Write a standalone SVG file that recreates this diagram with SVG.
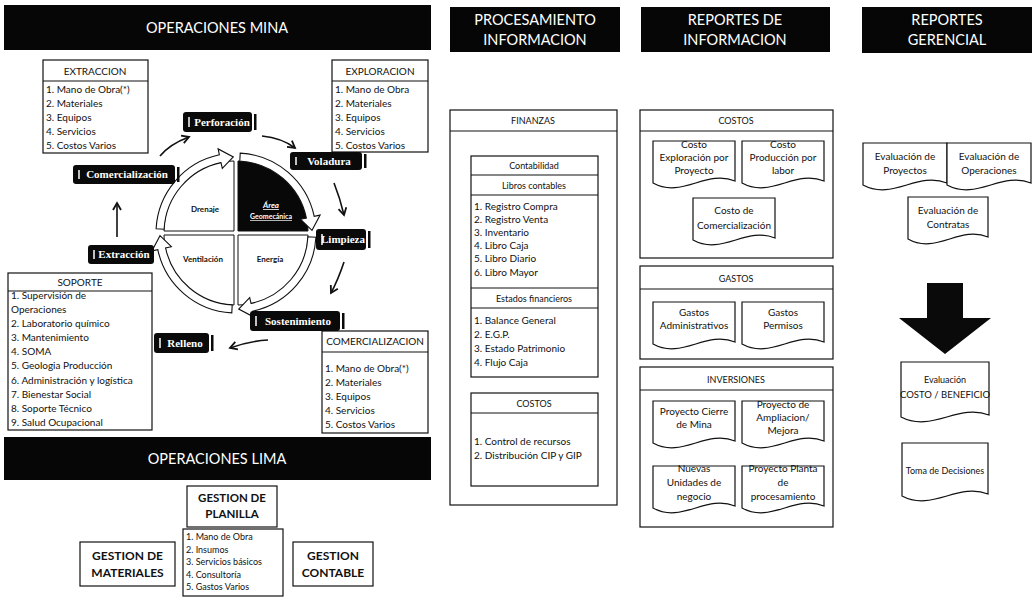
<svg xmlns="http://www.w3.org/2000/svg" xmlns:xlink="http://www.w3.org/1999/xlink" width="1036" height="600" viewBox="0 0 1036 600">
<style>
.bar{fill:#060606}
.bt{font-family:Lato,'Open Sans',sans-serif;font-size:14.5px;fill:#fff;text-anchor:middle}
.bx{fill:#fff;stroke:#111;stroke-width:1.2}
.ln{stroke:#111;stroke-width:1.2}
.t{font-family:Lato,'Open Sans',sans-serif;font-size:10px;fill:#111}
.c{text-anchor:middle}
.b{font-weight:bold}
.sm{font-size:9px}
.lb{fill:#0a0a0a}
.lt{font-family:'Liberation Serif',serif;font-weight:bold;font-size:11px;fill:#fff;text-anchor:middle}
.mk{stroke:#fff;stroke-width:1.5;fill:none}
.br{fill:#0a0a0a}
.ar{fill:none;stroke:#111;stroke-width:1.6;marker-end:url(#ah)}
.ring{fill:#fff;stroke:#111;stroke-width:1.1}
.q{fill:#fff;stroke:#111;stroke-width:1}
.qt{font-family:Lato,'Open Sans',sans-serif;font-size:8px;font-weight:bold;fill:#111;text-anchor:middle}
.doc{fill:#fff;stroke:#111;stroke-width:1.2}
</style>
<defs>
<marker id="ah" markerUnits="userSpaceOnUse" markerWidth="12" markerHeight="12" refX="8" refY="5" orient="auto">
<path d="M1,1 L8,5 L1,9" fill="none" stroke="#111" stroke-width="1.8"/>
</marker>
<path id="ring" class="ring" d="M156.1,228.8 A80,80 0 0 1 219.4,154.8 L218.1,148.9 L233.3,157 L222.3,168.4 L221,162.6 A72,72 0 0 0 164.1,229.2 Z"/>
</defs>
<rect width="1036" height="600" fill="#fff"/>

<!-- column headers -->
<g id="hdr-mina"><rect class="bar" x="4" y="5" width="427" height="45"/><text class="bt" x="217" y="33">OPERACIONES MINA</text></g>
<g id="hdr-proc"><rect class="bar" x="450" y="7" width="170" height="45"/><text class="bt" x="535" y="25">PROCESAMIENTO</text><text class="bt" x="535" y="45">INFORMACION</text></g>
<g id="hdr-rep"><rect class="bar" x="641" y="7" width="189" height="45"/><text class="bt" x="735" y="25">REPORTES DE</text><text class="bt" x="735" y="45">INFORMACION</text></g>
<g id="hdr-ger"><rect class="bar" x="862" y="7" width="170" height="46"/><text class="bt" x="947" y="25">REPORTES</text><text class="bt" x="947" y="45">GERENCIAL</text></g>
<g id="hdr-lima"><rect class="bar" x="4" y="437" width="427" height="43"/><text class="bt" x="217" y="464">OPERACIONES LIMA</text></g>

<!-- mine cost lists -->
<g id="extraccion">
<rect class="bx" x="43" y="60" width="105" height="93"/><line class="ln" x1="43" y1="81" x2="148" y2="81"/>
<text class="t c" x="95" y="75">EXTRACCION</text>
<text class="t" x="46" y="93">1. Mano de Obra(*)</text><text class="t" x="46" y="107">2. Materiales</text><text class="t" x="46" y="121">3. Equipos</text><text class="t" x="46" y="135">4. Servicios</text><text class="t" x="46" y="149">5. Costos Varios</text>
</g>
<g id="exploracion">
<rect class="bx" x="332" y="60" width="96" height="92"/><line class="ln" x1="332" y1="81" x2="428" y2="81"/>
<text class="t c" x="380" y="75">EXPLORACION</text>
<text class="t" x="335" y="93">1. Mano de Obra</text><text class="t" x="335" y="107">2. Materiales</text><text class="t" x="335" y="121">3. Equipos</text><text class="t" x="335" y="135">4. Servicios</text><text class="t" x="335" y="149">5. Costos Varios</text>
</g>
<g id="soporte">
<rect class="bx" x="8" y="273" width="144" height="157"/>
<text class="t c" x="80" y="286">SOPORTE</text>
<text class="t" x="11" y="299">1. Supervisión de</text><line class="ln" x1="8" y1="291" x2="152" y2="291"/>
<text class="t" x="11" y="313">Operaciones</text><text class="t" x="11" y="327">2. Laboratorio químico</text><text class="t" x="11" y="341">3. Mantenimiento</text><text class="t" x="11" y="355">4. SOMA</text><text class="t" x="11" y="369">5. Geologia Producción</text><text class="t" x="11" y="384">6. Administración y logística</text><text class="t" x="11" y="398">7. Bienestar Social</text><text class="t" x="11" y="412">8. Soporte Técnico</text><text class="t" x="11" y="426">9. Salud Ocupacional</text>
</g>
<g id="comercializacion">
<rect class="bx" x="322" y="331" width="106" height="102"/><line class="ln" x1="322" y1="352" x2="428" y2="352"/>
<text class="t c" x="375" y="345">COMERCIALIZACION</text>
<text class="t" x="325" y="372">1. Mano de Obra(*)</text><text class="t" x="325" y="386">2. Materiales</text><text class="t" x="325" y="400">3. Equipos</text><text class="t" x="325" y="414">4. Servicios</text><text class="t" x="325" y="428">5. Costos Varios</text>
</g>

<!-- operating cycle wheel -->
<g id="ciclo">
<path class="q" d="M234,231 H164 A70,70 0 0 1 234,161 Z"/>
<path d="M238,231 V161 A70,70 0 0 1 308,231 Z" fill="#080808" stroke="#111"/>
<path class="q" d="M238,235 H308 A70,70 0 0 1 238,305 Z"/>
<path class="q" d="M234,235 V305 A70,70 0 0 1 164,235 Z"/>
<use xlink:href="#ring"/>
<use xlink:href="#ring" transform="rotate(90 236 233)"/>
<use xlink:href="#ring" transform="rotate(180 236 233)"/>
<use xlink:href="#ring" transform="rotate(270 236 233)"/>
<text class="qt" x="205" y="212">Drenaje</text>
<text class="qt" x="203" y="262">Ventilación</text>
<text class="qt" x="270" y="262">Energía</text>
<text class="qt" x="271" y="208" style="fill:#fff;font-style:italic;text-decoration:underline">Área</text>
<text class="qt" x="271" y="219" style="fill:#fff;font-size:7px;text-decoration:underline">Geomecánica</text>
</g>

<!-- cycle stages -->
<g id="n-perforacion"><rect class="lb" x="183" y="112" width="69" height="20" rx="3"/><path class="mk" d="M189,117v10"/><rect class="br" x="254" y="114" width="2.5" height="16"/><text class="lt" x="222" y="126">Perforación</text></g>
<g id="n-voladura"><rect class="lb" x="290" y="152" width="72" height="18" rx="3"/><path class="mk" d="M296,157v8"/><rect class="br" x="364" y="154" width="2.5" height="14"/><text class="lt" x="329" y="165">Voladura</text></g>
<g id="n-limpieza"><rect class="lb" x="316" y="229" width="50" height="21" rx="3"/><path class="mk" d="M322,234v11"/><rect class="br" x="368" y="231" width="2.5" height="17"/><text class="lt" x="343" y="243">Limpieza</text></g>
<g id="n-sostenimiento"><rect class="lb" x="250" y="311" width="90" height="20" rx="3"/><path class="mk" d="M256,316v10"/><rect class="br" x="342" y="313" width="2.5" height="16"/><text class="lt" x="298" y="325">Sostenimiento</text></g>
<g id="n-relleno"><rect class="lb" x="154" y="333" width="55" height="20" rx="3"/><path class="mk" d="M160,338v10"/><rect class="br" x="211" y="335" width="2.5" height="16"/><text class="lt" x="185" y="347">Relleno</text></g>
<g id="n-extraccion"><rect class="lb" x="88" y="245" width="66" height="19" rx="3"/><path class="mk" d="M94,250v9"/><text class="lt" x="124" y="258">Extracción</text></g>
<g id="n-comercializacion"><rect class="lb" x="73" y="165" width="102" height="19" rx="3"/><path class="mk" d="M79,170v9"/><rect class="br" x="177" y="167" width="2.5" height="15"/><text class="lt" x="127" y="178">Comercialización</text></g>

<g id="conectores">
<path class="ar" d="M160,156 Q170,144 189,137"/>
<path class="ar" d="M262,136 Q282,138 295,148"/>
<path class="ar" d="M334,183 Q340,198 344,215"/>
<path class="ar" d="M344,262 Q338,280 331,293"/>
<path class="ar" d="M268,340 Q250,341 230,348"/>
<path class="ar" d="M117,237 V203"/>
</g>

<!-- Lima operations -->
<g id="planilla"><rect class="bx" x="187" y="486" width="90" height="41"/><text class="t b c" style="font-size:11.5px" x="232" y="502">GESTION DE</text><text class="t b c" style="font-size:11.5px" x="232" y="518">PLANILLA</text></g>
<g id="planilla-lista"><rect class="bx" x="183" y="529" width="100" height="67"/>
<text class="t sm" x="186" y="540">1. Mano de Obra</text><text class="t sm" x="186" y="552.5">2. Insumos</text><text class="t sm" x="186" y="565">3. Servicios básicos</text><text class="t sm" x="186" y="577.5">4. Consultoría</text><text class="t sm" x="186" y="590">5. Gastos Varios</text></g>
<g id="materiales"><rect class="bx" x="80" y="542" width="95" height="44"/><text class="t b c" style="font-size:12px" x="127.5" y="560">GESTION DE</text><text class="t b c" style="font-size:12px" x="127.5" y="577">MATERIALES</text></g>
<g id="contable"><rect class="bx" x="293" y="542" width="80" height="44"/><text class="t b c" style="font-size:12px" x="333" y="560">GESTION</text><text class="t b c" style="font-size:12px" x="333" y="577">CONTABLE</text></g>

<!-- information processing -->
<g id="finanzas">
<rect class="bx" x="450" y="110" width="167" height="395"/><line class="ln" x1="450" y1="131" x2="617" y2="131"/>
<text class="t c sm" x="533" y="124">FINANZAS</text>
<rect class="bx" x="471" y="156" width="127" height="221"/>
<line class="ln" x1="471" y1="175" x2="598" y2="175"/><line class="ln" x1="471" y1="195" x2="598" y2="195"/>
<line class="ln" x1="471" y1="288" x2="598" y2="288"/><line class="ln" x1="471" y1="308" x2="598" y2="308"/>
<text class="t c sm" x="534" y="169">Contabilidad</text>
<text class="t c sm" x="534" y="189">Libros contables</text>
<text class="t" x="474" y="210">1. Registro Compra</text><text class="t" x="474" y="223">2. Registro Venta</text><text class="t" x="474" y="236">3. Inventario</text><text class="t" x="474" y="249">4. Libro  Caja</text><text class="t" x="474" y="262">5. Libro Diario</text><text class="t" x="474" y="276">6. Libro Mayor</text>
<text class="t c sm" x="534" y="302">Estados financieros</text>
<text class="t" x="474" y="324">1. Balance General</text><text class="t" x="474" y="338">2. E.G.P.</text><text class="t" x="474" y="352">3. Estado Patrimonio</text><text class="t" x="474" y="366">4. Flujo Caja</text>
<rect class="bx" x="471" y="393" width="127" height="93"/><line class="ln" x1="471" y1="413" x2="598" y2="413"/>
<text class="t c sm" x="534" y="407">COSTOS</text>
<text class="t" x="474" y="445">1. Control de recursos</text><text class="t" x="474" y="459">2. Distribución CIP y GIP</text>
</g>

<!-- information reports -->
<g id="rep-costos">
<rect class="bx" x="640" y="110" width="193" height="148"/><line class="ln" x1="640" y1="131" x2="833" y2="131"/>
<text class="t c sm" x="736" y="124">COSTOS</text>
<path class="doc" d="M653,141 H735 V181 C706,169 682,199 653,183 Z"/>
<text class="t c" x="694" y="148">Costo</text><text class="t c" x="694" y="161">Exploración por</text><text class="t c" x="694" y="174">Proyecto</text>
<path class="doc" d="M742,141 H824 V181 C795,169 771,199 742,183 Z"/>
<text class="t c" x="783" y="148">Costo</text><text class="t c" x="783" y="161">Producción por</text><text class="t c" x="783" y="174">labor</text>
<path class="doc" d="M693,198 H775 V238 C746,226 722,256 693,240 Z"/>
<text class="t c" x="734" y="214">Costo de</text><text class="t c" x="734" y="229">Comercialización</text>
</g>
<g id="rep-gastos">
<rect class="bx" x="640" y="266" width="193" height="93"/><line class="ln" x1="640" y1="289" x2="833" y2="289"/>
<text class="t c sm" x="736" y="282">GASTOS</text>
<path class="doc" d="M653,302 H735 V342 C706,330 682,360 653,344 Z"/>
<text class="t c" x="694" y="316">Gastos</text><text class="t c" x="694" y="329">Administrativos</text>
<path class="doc" d="M742,302 H824 V342 C795,330 771,360 742,344 Z"/>
<text class="t c" x="783" y="316">Gastos</text><text class="t c" x="783" y="329">Permisos</text>
</g>
<g id="rep-inversiones">
<rect class="bx" x="640" y="367" width="193" height="160"/><line class="ln" x1="640" y1="390" x2="833" y2="390"/>
<text class="t c sm" x="736" y="383">INVERSIONES</text>
<path class="doc" d="M653,401 H735 V441 C706,429 682,459 653,443 Z"/>
<text class="t c" x="694" y="415">Proyecto Cierre</text><text class="t c" x="694" y="428">de Mina</text>
<path class="doc" d="M742,401 H824 V441 C795,429 771,459 742,443 Z"/>
<text class="t c" x="783" y="408">Proyecto de</text><text class="t c" x="783" y="421">Ampliacion/</text><text class="t c" x="783" y="434">Mejora</text>
<path class="doc" d="M653,466 H735 V506 C706,494 682,524 653,508 Z"/>
<text class="t c" x="694" y="472">Nuevas</text><text class="t c" x="694" y="486">Unidades de</text><text class="t c" x="694" y="500">negocio</text>
<path class="doc" d="M742,466 H824 V506 C795,494 771,524 742,508 Z"/>
<text class="t c" x="783" y="472">Proyecto Planta</text><text class="t c" x="783" y="486">de</text><text class="t c" x="783" y="500">procesamiento</text>
</g>

<!-- management reports -->
<g id="ger-proyectos"><path class="doc" d="M863,143 H947 V183 C917,171 893,201 863,185 Z"/><text class="t c" x="905" y="160">Evaluación de</text><text class="t c" x="905" y="174">Proyectos</text></g>
<g id="ger-operaciones"><path class="doc" d="M947,143 H1031 V183 C1001,171 977,201 947,185 Z"/><text class="t c" x="989" y="160">Evaluación de</text><text class="t c" x="989" y="174">Operaciones</text></g>
<g id="ger-contratas"><path class="doc" d="M908,197 H988 V237 C960,225 936,255 908,239 Z"/><text class="t c" x="948" y="214">Evaluación de</text><text class="t c" x="948" y="228">Contratas</text></g>
<g id="flecha"><polygon points="927,283 963,283 963,318 991,318 945,354 899,318 927,318" fill="#0a0a0a"/></g>
<g id="ger-costo-beneficio"><path class="doc" d="M901,362 H989 V415 C958,403 932,433 901,417 Z"/><text class="t c sm" x="945" y="383">Evaluación</text><text class="t c" style="font-size:9.5px" x="945" y="398">COSTO / BENEFICIO</text></g>
<g id="ger-decisiones"><path class="doc" d="M902,443 H988 V494 C958,482 932,512 902,496 Z"/><text class="t c sm" x="945" y="474">Toma de Decisiones</text></g>
</svg>
